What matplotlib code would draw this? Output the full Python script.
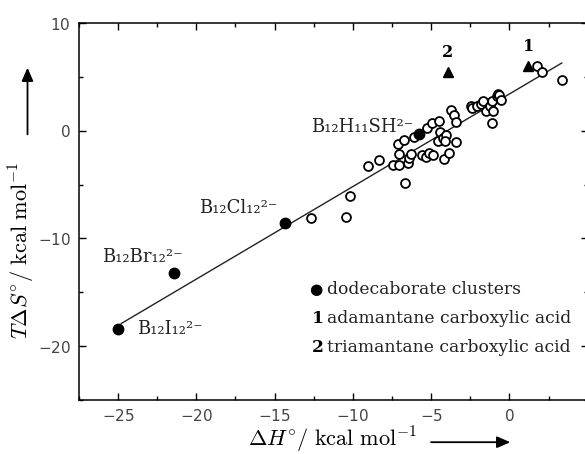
import matplotlib
matplotlib.use("Agg")
import matplotlib.pyplot as plt
from matplotlib.patches import FancyArrowPatch
from matplotlib.ticker import MultipleLocator

plt.rcParams.update({
    "mathtext.fontset": "cm",
    "axes.formatter.use_mathtext": True,
    "axes.unicode_minus": True,
})

# open circles: other guests (dH, TdS) in kcal/mol
guest_dh = [-12.66, -10.46, -10.21, -9.02, -8.33, -7.42, -7.03, -7.10, -7.03, -6.71,
            -6.67, -6.46, -6.39, -6.31, -6.07, -5.61, -5.33, -5.29, -5.12, -4.90,
            -4.92, -4.50, -4.54, -4.43, -4.22, -4.18, -4.07, -4.11, -3.86, -3.75,
            -3.52, -3.43, -3.41, -2.47, -2.37, -2.09, -1.83, -1.66, -1.51, -1.24,
            -1.13, -1.07, -1.13, -0.81, -0.70, -0.64, -0.55, 1.79, 2.11, 3.39]
guest_tds = [-8.14, -7.98, -6.06, -3.26, -2.70, -3.17, -3.17, -1.24, -2.17, -0.84,
             -4.88, -2.95, -2.55, -2.17, -0.59, -2.24, -2.39, 0.25, -2.08, -2.24,
             0.71, 0.87, -0.99, -0.12, -0.68, -2.64, -0.37, -0.99, -2.08, 1.96,
             1.49, 0.78, -1.06, 2.33, 2.11, 2.27, 2.52, 2.73, 1.80, 2.27,
             2.73, 1.80, 0.71, 3.20, 3.45, 3.29, 2.89, 6.06, 5.47, 4.75]

# dodecaborate clusters (filled circles)
cluster_names = ["B₁₂I₁₂²⁻", "B₁₂Br₁₂²⁻", "B₁₂Cl₁₂²⁻", "B₁₂H₁₁SH²⁻"]
cluster_dh = [-25.0, -21.4, -14.35, -5.75]
cluster_tds = [-18.45, -13.25, -8.6, -0.3]

# carboxylic acids (triangles)
acid_ids = ["1", "2"]
acid_dh = [1.2, -3.95]
acid_tds = [6.0, 5.45]

# regression line end points
fit_dh = [-24.8, 3.35]
fit_tds = [-17.9, 6.3]

xtick_vals = [-25, -20, -15, -10, -5, 0]

fig = plt.figure(figsize=(5.85, 4.54), dpi=100)
ax = fig.add_axes([0.135, 0.119, 0.8695, 0.830])

ax.plot(fit_dh, fit_tds, color="#222222", lw=1.0, zorder=1)
ax.plot(guest_dh, guest_tds, "o", ms=6.4, mfc="white", mec="black", mew=1.3,
        ls="none", zorder=2)
ax.plot(cluster_dh, cluster_tds, "o", ms=7.5, color="black", ls="none", zorder=3)
ax.plot(acid_dh, acid_tds, "^", ms=7.5, color="black", ls="none", zorder=3)

serif = ["DejaVu Serif", "DejaVu Sans"]
label_pos = [(-23.8, -18.4), (-26.0, -11.7), (-19.8, -7.2), (-12.7, 0.4)]
for name, (lx, ly) in zip(cluster_names, label_pos):
    ax.text(lx, ly, name, family=serif, fontsize=13, va="center", ha="left",
            color="#222222")

for aid, x, y in zip(acid_ids, acid_dh, acid_tds):
    ax.annotate(aid, (x, y), xytext=(0, 14), textcoords="offset points",
                ha="center", va="center", fontsize=11.5, fontweight="bold",
                family=serif)

# key
ax.text(0.466, 0.294, "●", family="DejaVu Sans", fontsize=11, transform=ax.transAxes,
        va="center", ha="center")
ax.text(0.488, 0.294, "dodecaborate clusters", family=serif, fontsize=12.3,
        transform=ax.transAxes, va="center", ha="left", color="#222222")
key_rows = [("1", "adamantane carboxylic acid", 0.217),
            ("2", "triamantane carboxylic acid", 0.138)]
for num, txt, yy in key_rows:
    ax.text(0.457, yy, num, family=serif, fontsize=12.3, fontweight="bold",
            transform=ax.transAxes, va="center", ha="left")
    ax.text(0.488, yy, txt, family=serif, fontsize=12.3,
            transform=ax.transAxes, va="center", ha="left", color="#222222")

ax.set_xlim(-27.5, 5)
ax.set_ylim(-25, 10)
ax.set_xticks(xtick_vals)
ax.xaxis.set_minor_locator(MultipleLocator(2.5))
ax.yaxis.set_major_locator(MultipleLocator(10))
ax.yaxis.set_minor_locator(MultipleLocator(5))
ax.tick_params(which="both", direction="in", top=True, right=True, width=1.0,
               labelsize=11, labelcolor="#444444")
ax.tick_params(which="major", length=5, pad=6)
ax.tick_params(which="minor", length=3)
for s in ax.spines.values():
    s.set_linewidth(1.1)

fig.text(0.568, 0.03, r"$\Delta H^{\circ}/\ \mathrm{kcal\ mol}^{-1}$", fontsize=16,
         ha="center", va="center")
fig.text(0.038, 0.449, r"$T\Delta S^{\circ}/\ \mathrm{kcal\ mol}^{-1}$", fontsize=16,
         ha="center", va="center", rotation=90)

# arrows next to the axis titles
arrow_style = "-|>,head_length=8,head_width=3.5"
fig.add_artist(FancyArrowPatch((0.732, 0.026), (0.877, 0.026), transform=fig.transFigure,
                               arrowstyle=arrow_style, lw=1.3, color="black"))
fig.add_artist(FancyArrowPatch((0.047, 0.698), (0.047, 0.857), transform=fig.transFigure,
                               arrowstyle=arrow_style, lw=1.3, color="black"))

fig.savefig("out.png", dpi=100)
